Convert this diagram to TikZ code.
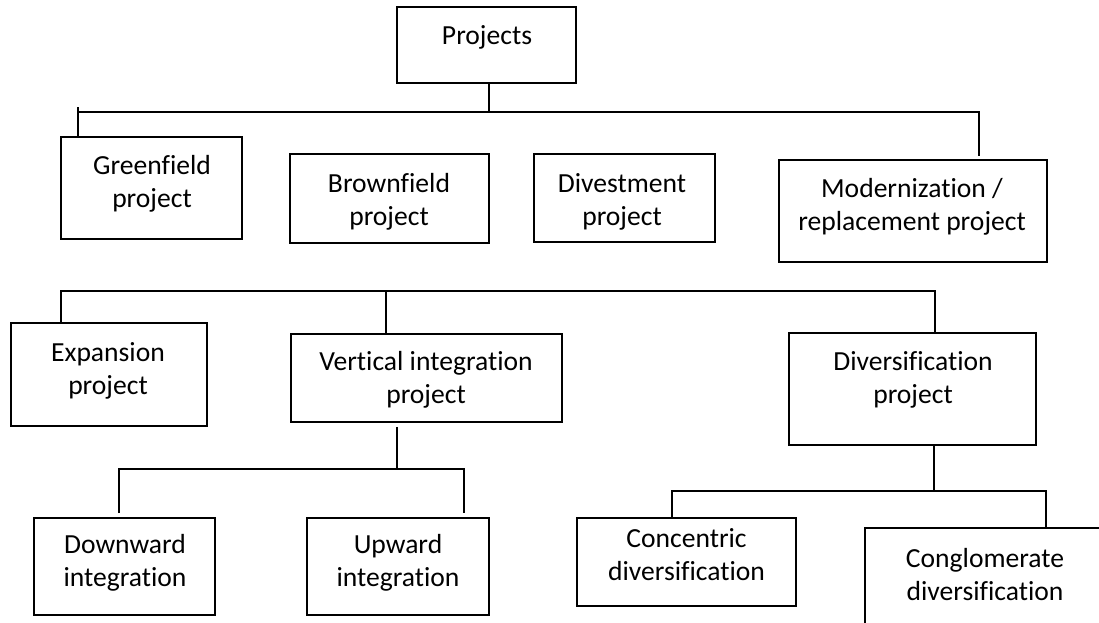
\documentclass[tikz,border=0pt]{standalone}
\usepackage{fontspec}
\setmainfont{Carlito}[Ligatures=NoCommon]
\usetikzlibrary{calc}
\newcommand{\twoline}[2]{\strut #1\\\strut #2}
\begin{document}
\begin{tikzpicture}[x=1pt,y=-1pt,
  box/.style={draw, line width=1.8pt, rectangle, inner sep=0pt},
  lbl/.style={font=\fontsize{27.6}{33}\selectfont, align=center, inner sep=0pt},
  conn/.style={line width=1.5pt}]
\clip (0,0) rectangle (1099,622);
\fill[white] (0,0) rectangle (1099,622);

% boxes
\node[box, minimum width=179pt, minimum height=76pt]  (P) at (486.5,45) {};
\node[box, minimum width=181pt, minimum height=102pt] (G) at (151.5,188) {};
\node[box, minimum width=199pt, minimum height=89pt]  (B) at (389.5,198.5) {};
\node[box, minimum width=181pt, minimum height=88pt]  (D) at (624.5,198) {};
\node[box, minimum width=268pt, minimum height=102pt] (M) at (913,211) {};
\node[box, minimum width=196pt, minimum height=103pt] (E) at (109,374.5) {};
\node[box, minimum width=271pt, minimum height=88pt]  (V) at (426.5,378) {};
\node[box, minimum width=247pt, minimum height=112pt] (F) at (912.5,389) {};
\node[box, minimum width=181pt, minimum height=97pt]  (W) at (124.5,566.5) {};
\node[box, minimum width=182pt, minimum height=97pt]  (U) at (398,566.5) {};
\node[box, minimum width=219pt, minimum height=88pt]  (C) at (686.5,562) {};
\node[box, minimum width=240pt, minimum height=102pt] (K) at (985,579) {};

% texts
\node[lbl] (Pt) at (487,37.4) {\strut Projects};
\node[lbl] (Gt) at (152,184) {\twoline{Greenfield}{project}};
\node[lbl] (Bt) at (389,202) {\twoline{Brownfield}{project}};
\node[lbl] (Dt) at (622,202) {\twoline{Divestment}{project}};
\node[lbl] (Mt) at (912,207) {\twoline{Modernization /}{replacement project}};
\node[lbl] (Et) at (108,371) {\twoline{Expansion}{project}};
\node[lbl] (Vt) at (426,380) {\twoline{Vertical integration}{project}};
\node[lbl] (Ft) at (913,380) {\twoline{Diversification}{project}};
\node[lbl] (Wt) at (125,563) {\twoline{Downward}{integration}};
\node[lbl] (Ut) at (398,563) {\twoline{Upward}{integration}};
\node[lbl] (Ct) at (686.5,557) {\twoline{Concentric}{diversification}};
\node[lbl] (Kt) at (985,577) {\twoline{Conglomerate}{diversification}};

% level 1 connectors
\coordinate (b1) at (489,112);
\coordinate (b1L) at (78,112);
\coordinate (b1R) at (979,112);
\draw[conn] (b1 |- P.south) -- (b1);
\draw[conn] (b1L) -- (b1R) -- ($(b1R |- M.north)+(0,-3)$);
\draw[conn] (b1L |- G.north) -- (78,107);

% level 2 connectors
\coordinate (b2L) at (61,291);
\coordinate (b2V) at (386,291);
\coordinate (b2R) at (935,291);
\draw[conn] (b2L |- E.north) -- (b2L) -- (b2R) -- (b2R |- F.north);
\draw[conn] (b2V |- V.north) -- (b2V);

% vertical integration children
\coordinate (b3) at (397,469);
\coordinate (b3L) at (119,469);
\coordinate (b3R) at (464,469);
\draw[conn] ($(b3 |- V.south)+(0,4)$) -- (b3);
\draw[conn] ($(b3L |- W.north)+(0,-4)$) -- (b3L) -- (b3R) -- ($(b3R |- U.north)+(0,-4)$);

% diversification children
\coordinate (b4) at (934,491);
\coordinate (b4L) at (672,491);
\coordinate (b4R) at (1046,491);
\draw[conn] (b4 |- F.south) -- (b4);
\draw[conn] (b4L |- C.north) -- (b4L) -- (b4R) -- (b4R |- K.north);
\end{tikzpicture}
\end{document}
